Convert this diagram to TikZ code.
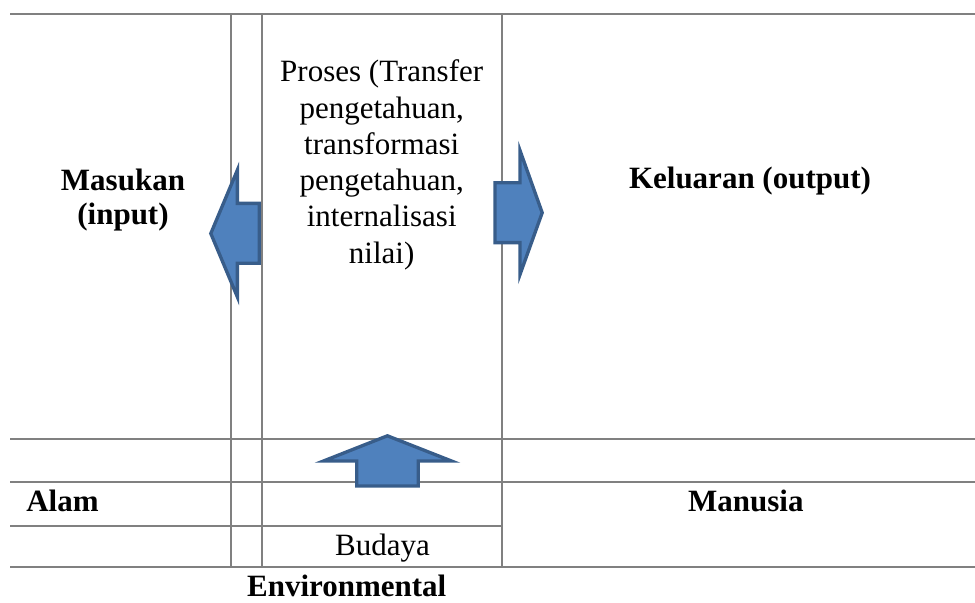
\documentclass[tikz,border=0pt]{standalone}
\usepackage{fontspec}
\setmainfont{Liberation Serif}
\definecolor{gridgray}{HTML}{808080}
\definecolor{arrowfill}{HTML}{4F81BD}
\definecolor{arrowline}{HTML}{385D8A}
\begin{document}
\begin{tikzpicture}[x=0.75pt,y=-0.75pt,
  gridline/.style={draw=gridgray,line width=1.5pt},
  blockarrow/.style={fill=arrowfill,draw=arrowline,line width=2.5pt,line join=miter,miter limit=20},
  lbl/.style={font=\fontsize{23.25}{27.2}\selectfont,inner sep=0pt,anchor=base},
  blbl/.style={font=\fontsize{23.25}{25.3}\selectfont\bfseries,inner sep=0pt,anchor=base}]
\useasboundingbox (0,0) rectangle (975,603);
% grid coordinates
\coordinate (tl) at (10,14);   \coordinate (tr) at (975,14);
\coordinate (h1l) at (10,439); \coordinate (h1r) at (975,439);
\coordinate (h2l) at (10,481.7); \coordinate (h2r) at (975,481.7);
\coordinate (h3l) at (10,526); \coordinate (h3r) at (501.7,526);
\coordinate (bl) at (10,566.7); \coordinate (br) at (975,566.7);
\coordinate (v1t) at (231,14);   \coordinate (v1b) at (231,566.7);
\coordinate (v2t) at (261.7,14); \coordinate (v2b) at (261.7,566.7);
\coordinate (v3t) at (501.7,14); \coordinate (v3b) at (501.7,566.7);
\draw[gridline] (tl) -- (tr);
\draw[gridline] (h1l) -- (h1r);
\draw[gridline] (h2l) -- (h2r);
\draw[gridline] (h3l) -- (h3r);
\draw[gridline] (bl) -- (br);
\draw[gridline] (v1t) -- (v1b);
\draw[gridline] (v2t) -- (v2b);
\draw[gridline] (v3t) -- (v3b);
% block arrows
\draw[blockarrow] (210.8,233.5) -- (237.4,170) -- (237.4,203.4) -- (259.3,203.4) -- (259.3,263.3) -- (237.4,263.3) -- (237.4,297) -- cycle;
\draw[blockarrow] (495,182.7) -- (520,182.7) -- (520,150.5) -- (542.2,212.7) -- (520,274.5) -- (520,242.6) -- (495,242.6) -- cycle;
\draw[blockarrow] (387.4,435.8) -- (451.5,461) -- (418.3,461) -- (418.3,486) -- (356.7,486) -- (356.7,461) -- (323.5,461) -- cycle;
% texts
\node[lbl,align=center] (proses) at (381.7,263.2) {Proses (Transfer\\pengetahuan,\\transformasi\\pengetahuan,\\internalisasi\\nilai)};
\node[blbl,align=center] (masukan) at (123,224.5) {Masukan\\(input)};
\node[blbl] (keluaran) at (750,188.3) {Keluaran (output)};
\node[blbl,anchor=base west] (alam) at (26,511.7) {Alam};
\node[blbl] (manusia) at (745.8,511.7) {Manusia};
\node[lbl] (budaya) at (382.5,555) {Budaya};
\node[blbl] (env) at (346.7,596.5) {Environmental};
\end{tikzpicture}
\end{document}
